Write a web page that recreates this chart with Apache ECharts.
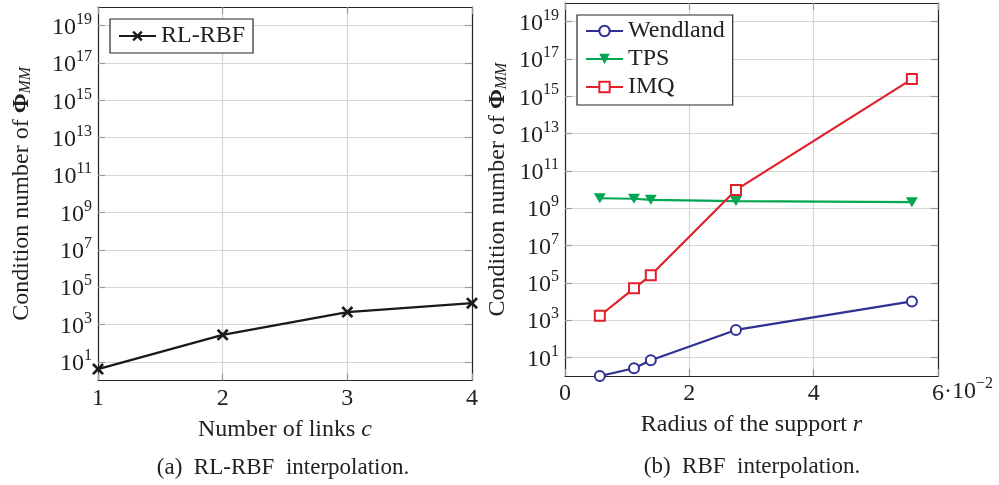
<!DOCTYPE html>
<html><head><meta charset="utf-8">
<script src="https://cdn.jsdelivr.net/npm/echarts@6/dist/echarts.min.js"></script>
<style>html,body{margin:0;padding:0;background:#fff}#c{width:999px;height:485px}</style>
</head><body><div id="c"></div>
<script>
// ---- data ----
const links = [1, 2, 3, 4];
const rlrbf = [4.1, 280, 4600, 13800];
const radius = [0.0056, 0.0111, 0.0138, 0.0275, 0.0558];
const wendland = [1.0, 2.6, 7, 295, 10000];
const tps = [3.4e9, 3.2e9, 2.8e9, 2.4e9, 2.1e9];
const imq = [1700, 5e4, 2.5e5, 9.5e9, 8.3e15];
const yTickValues = [1e1, 1e3, 1e5, 1e7, 1e9, 1e11, 1e13, 1e15, 1e17, 1e19];
const xTicksA = [1, 2, 3, 4];
const xTicksB = [0, 0.02, 0.04, 0.06];

const FF = '"Liberation Serif", "DejaVu Serif", serif';
const FRAME = '#262626';
const GRID = '#d6d6d6';
const TICK = '#9a9a9a';
const FS = 24;
const FSS = 16;

const supRich = {
  b: { fontFamily: FF, fontSize: FS, color: '#222', lineHeight: 28, verticalAlign: 'bottom' },
  s: { fontFamily: FF, fontSize: FSS, color: '#222', lineHeight: 16, verticalAlign: 'top' }
};
const yTitleRich = {
  t: { fontFamily: FF, fontSize: FS, color: '#222' },
  b: { fontFamily: FF, fontSize: FS, color: '#222', fontWeight: 'bold' },
  s: { fontFamily: FF, fontSize: FSS, color: '#222', fontStyle: 'italic', verticalAlign: 'bottom', lineHeight: 14 }
};
function expFmt(v) {
  const e = Math.round(Math.log10(v));
  return '{b|10}{s|' + e + '}';
}
function yAxisMain(grid, gap) {
  return {
    type: 'log', logBase: 10, gridIndex: grid, position: 'left', min: 1, max: 1e20,
    axisLine: { show: true, onZero: false, lineStyle: { color: FRAME, width: 1.2 } },
    axisTick: { show: true, inside: true, length: 7, lineStyle: { color: TICK, width: 1.2 }, customValues: yTickValues },
    axisLabel: { customValues: yTickValues, formatter: expFmt, rich: supRich, margin: 6 },
    splitLine: { show: true, lineStyle: { color: GRID, width: 1.2 } },
    minorTick: { show: false }, minorSplitLine: { show: false },
    name: '{t|Condition number of }{b|Φ}{s|MM}',
    nameLocation: 'middle', nameGap: gap, nameRotate: 90,
    nameTextStyle: { rich: yTitleRich, fontFamily: FF, fontSize: FS, color: '#222' }
  };
}
function yAxisMirror(grid) {
  return {
    type: 'log', logBase: 10, gridIndex: grid, position: 'right', min: 1, max: 1e20,
    axisLine: { show: true, onZero: false, lineStyle: { color: FRAME, width: 1.2 } },
    axisTick: { show: true, inside: true, length: 7, lineStyle: { color: TICK, width: 1.2 }, customValues: yTickValues },
    axisLabel: { show: false },
    splitLine: { show: false }
  };
}
function xAxisMain(grid, min, max, interval, fmt, nameRich, nameStr) {
  return {
    type: 'value', gridIndex: grid, position: 'bottom', min: min, max: max, interval: interval,
    axisLine: { show: true, onZero: false, lineStyle: { color: FRAME, width: 1.2 } },
    axisTick: { show: true, inside: true, length: 7, lineStyle: { color: TICK, width: 1.2 } },
    axisLabel: { formatter: fmt, fontFamily: FF, fontSize: FS, color: '#222', margin: 6 },
    splitLine: { show: true, lineStyle: { color: GRID, width: 1.2 } },
    name: nameStr, nameLocation: 'middle', nameGap: 37,
    nameTextStyle: { fontFamily: FF, fontSize: FS, color: '#222', rich: nameRich }
  };
}
function xAxisMirror(grid, min, max, interval) {
  return {
    type: 'value', gridIndex: grid, position: 'top', min: min, max: max, interval: interval,
    axisLine: { show: true, onZero: false, lineStyle: { color: FRAME, width: 1.2 } },
    axisTick: { show: true, inside: true, length: 7, lineStyle: { color: TICK, width: 1.2 } },
    axisLabel: { show: false }, splitLine: { show: false }
  };
}
const titleRich = {
  t: { fontFamily: FF, fontSize: FS, color: '#222' },
  i: { fontFamily: FF, fontSize: FS, color: '#222', fontStyle: 'italic' }
};
const crossPath = 'path://M0,1.6 L1.6,0 L5,3.4 L8.4,0 L10,1.6 L6.6,5 L10,8.4 L8.4,10 L5,6.6 L1.6,10 L0,8.4 L3.4,5 Z';

const chart = echarts.init(document.getElementById('c'), null, { renderer: 'canvas' });
chart.setOption({
  animation: false,
  backgroundColor: '#fff',
  grid: [
    { left: 98, top: 7, width: 374, height: 373.5 },
    { left: 565, top: 3, width: 373, height: 373 }
  ],
  xAxis: [
    xAxisMain(0, 1, 4, 1, v => String(v), titleRich, '{t|Number of links }{i|c}'),
    xAxisMirror(0, 1, 4, 1),
    xAxisMain(1, 0, 0.06, 0.02, v => String(Math.round(v * 100)), titleRich, '{t|Radius of the support }{i|r}'),
    xAxisMirror(1, 0, 0.06, 0.02)
  ],
  yAxis: [yAxisMain(0, 64), yAxisMirror(0), yAxisMain(1, 55), yAxisMirror(1)],
  legend: [
    {
      data: ['RL-RBF'], left: 110, top: 19, orient: 'vertical',
      padding: [5, 8, 5, 8], backgroundColor: '#fff', borderColor: FRAME, borderWidth: 1.2, borderRadius: 0,
      itemWidth: 37, itemHeight: 13, itemGap: 4,
      textStyle: { fontFamily: FF, fontSize: FS, color: '#222' }
    },
    {
      data: ['Wendland', 'TPS', 'IMQ'], left: 577, top: 15, orient: 'vertical',
      padding: [4, 8, 6, 8], backgroundColor: '#fff', borderColor: FRAME, borderWidth: 1.2, borderRadius: 0,
      itemWidth: 37, itemHeight: 13, itemGap: 4,
      textStyle: { fontFamily: FF, fontSize: FS, color: '#222' }
    }
  ],
  series: [
    {
      name: 'RL-RBF', type: 'line', xAxisIndex: 0, yAxisIndex: 0,
      data: links.map((x, i) => [x, rlrbf[i]]),
      symbol: crossPath, symbolSize: 12,
      lineStyle: { color: '#1a1a1a', width: 2.3 }, itemStyle: { color: '#1a1a1a' }
    },
    {
      name: 'Wendland', type: 'line', xAxisIndex: 2, yAxisIndex: 2,
      data: radius.map((x, i) => [x, wendland[i]]),
      symbol: 'emptyCircle', symbolSize: 10,
      lineStyle: { color: '#2e3192', width: 2.2 }, itemStyle: { color: '#2e3192', borderWidth: 2.5, borderColor: '#2e3192' }
    },
    {
      name: 'TPS', type: 'line', xAxisIndex: 2, yAxisIndex: 2,
      data: radius.map((x, i) => [x, tps[i]]),
      symbol: 'triangle', symbolSize: [12, 10], symbolRotate: 180,
      lineStyle: { color: '#00a651', width: 2.2 }, itemStyle: { color: '#00a651' }
    },
    {
      name: 'IMQ', type: 'line', xAxisIndex: 2, yAxisIndex: 2,
      data: radius.map((x, i) => [x, imq[i]]),
      symbol: 'emptyRect', symbolSize: 10,
      lineStyle: { color: '#e0202a', width: 2.2 }, itemStyle: { color: '#e0202a', borderWidth: 2.5, borderColor: '#e0202a' }
    }
  ],
  graphic: [
    {
      type: 'text', x: 944, y: 390,
      style: {
        text: '{d|·10}{s|−2}', align: 'left', verticalAlign: 'middle',
        rich: {
          d: { fontFamily: FF, fontSize: FS, fill: '#222', lineHeight: 28, verticalAlign: 'bottom' },
          s: { fontFamily: FF, fontSize: FSS, fill: '#222', lineHeight: 16, verticalAlign: 'top' }
        }
      }
    },
    {
      type: 'text', x: 283, y: 468,
      style: { text: '(a)  RL-RBF  interpolation.', fontFamily: FF, fontSize: 23, fill: '#222', align: 'center', verticalAlign: 'middle' }
    },
    {
      type: 'text', x: 752, y: 467,
      style: { text: '(b)  RBF  interpolation.', fontFamily: FF, fontSize: 23, fill: '#222', align: 'center', verticalAlign: 'middle' }
    }
  ]
});
</script></body></html>
